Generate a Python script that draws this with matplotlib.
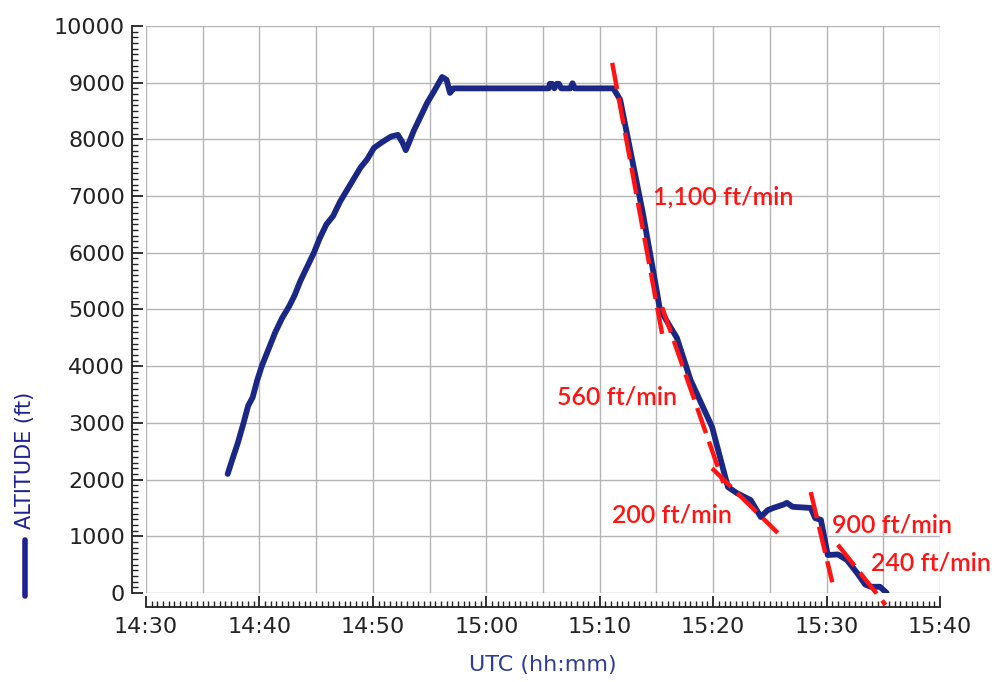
import matplotlib
matplotlib.use('Agg')
import matplotlib.pyplot as plt
from matplotlib.lines import Line2D
from matplotlib.ticker import MultipleLocator, FuncFormatter
import numpy as np

# Altitude trace (UTC time, ft)
times = ['14:37:12', '14:37:36', '14:38:06', '14:38:36', '14:39:00', '14:39:24', '14:39:48',
         '14:40:12', '14:40:48', '14:41:24', '14:42:00', '14:42:36', '14:43:06', '14:43:36',
         '14:44:12', '14:44:48', '14:45:18', '14:45:54', '14:46:30', '14:47:06', '14:47:42',
         '14:48:18', '14:48:54', '14:49:30', '14:50:06', '14:50:48', '14:51:12', '14:51:36',
         '14:52:12', '14:52:36', '14:52:54', '14:53:12', '14:53:36', '14:54:12', '14:54:48',
         '14:55:24', '14:56:06', '14:56:30', '14:56:48', '14:57:06', '14:57:18', '14:57:30',
         '15:05:30', '15:05:36', '15:05:48', '15:06:00', '15:06:12', '15:06:24', '15:06:36',
         '15:07:24', '15:07:36', '15:07:48', '15:11:12', '15:11:48', '15:12:42', '15:13:48',
         '15:15:03', '15:15:18', '15:16:30', '15:16:48', '15:18:00', '15:19:06', '15:19:54',
         '15:20:54', '15:21:18', '15:22:06', '15:23:18', '15:24:12', '15:24:48', '15:25:18',
         '15:26:12', '15:26:30', '15:27:00', '15:28:36', '15:29:00', '15:29:30', '15:30:06',
         '15:31:00', '15:31:48', '15:32:42', '15:33:24', '15:33:54', '15:34:42', '15:35:18']
altitude = [2100, 2350, 2650, 3000, 3300, 3450, 3750,
            4000, 4300, 4600, 4850, 5050, 5250, 5500,
            5750, 6000, 6250, 6500, 6650, 6900, 7100,
            7300, 7500, 7650, 7850, 7950, 8000, 8050,
            8080, 7950, 7810, 7950, 8150, 8400, 8650,
            8850, 9100, 9050, 8820, 8900, 8900, 8900,
            8900, 8980, 8980, 8900, 8980, 8980, 8900,
            8900, 8990, 8900, 8900, 8700, 7800, 6700,
            5300, 5000, 4600, 4500, 3760, 3280, 2930,
            2170, 1870, 1760, 1640, 1340, 1460, 1500,
            1560, 1590, 1520, 1500, 1320, 1290, 670,
            680, 580, 350, 150, 110, 110, 0]

# Descent-rate fit lines: start/end (time, ft) and label
rate_labels = ['1,100 ft/min', '560 ft/min', '200 ft/min', '900 ft/min', '240 ft/min']
rate_t0 = ['15:11:06', '15:15:30', '15:19:54', '15:28:36', '15:31:00']
rate_t1 = ['15:15:36', '15:20:54', '15:25:42', '15:30:30', '15:35:12']
rate_a0 = [9350, 5040, 2200, 1780, 850]
rate_a1 = [4460, 1940, 1060, 190, -210]


def to_min(s):
    h, m, sec = [int(v) for v in s.split(':')]
    return h * 60 + m + sec / 60.0


t = [to_min(s) for s in times]
t_start = to_min('14:30:00')
t_end = to_min('15:40:00')

fig = plt.figure(figsize=(9.94, 6.82), dpi=100)
ax = fig.add_axes([0.1469, 0.1305, 0.7988, 0.8314])

ax.set_xlim(t_start, t_end)
ax.set_ylim(0, 10000)

# grid
for gx in np.arange(t_start, t_end + 0.1, 5):
    ax.axvline(gx, color='#b4b4b4', lw=1, zorder=0)
for gy in np.arange(0, 10001, 1000):
    ax.axhline(gy, color='#b4b4b4', lw=1, zorder=0)

ax.plot(t, altitude, color='#1b2785', lw=4.2, solid_joinstyle='round',
        solid_capstyle='round', zorder=3)

label_pos = [(to_min('15:14:42'), 6980), (to_min('15:06:12'), 3460),
             (to_min('15:11:06'), 1380), (to_min('15:30:30'), 1200),
             (to_min('15:33:54'), 530)]
for lab, a, b, ya, yb, pos in zip(rate_labels, rate_t0, rate_t1, rate_a0, rate_a1, label_pos):
    ax.plot([to_min(a), to_min(b)], [ya, yb], color='#ff1414', lw=3.2,
            linestyle=(0, (6, 2)), zorder=4, clip_on=False)
    ax.text(pos[0], pos[1], lab, color='#ff1414', fontsize=18, fontfamily='Lato',
            fontweight='semibold', ha='left', va='center', zorder=5)

for s in ['top', 'right']:
    ax.spines[s].set_visible(False)
ax.spines['left'].set_position(('outward', 10))
ax.spines['bottom'].set_position(('outward', 10))
for s in ['left', 'bottom']:
    ax.spines[s].set_linewidth(1.3)
    ax.spines[s].set_color('#222222')

ax.xaxis.set_major_locator(MultipleLocator(10))
ax.xaxis.set_minor_locator(MultipleLocator(0.5))
ax.yaxis.set_major_locator(MultipleLocator(1000))
ax.yaxis.set_minor_locator(MultipleLocator(100))
ax.xaxis.set_major_formatter(FuncFormatter(
    lambda v, p: '%d:%02d' % (int(round(v)) // 60, int(round(v)) % 60)))

ax.tick_params(which='both', direction='in', color='#222222', labelcolor='#222222',
               labelsize=16)
ax.tick_params(axis='y', which='major', length=8, width=1.3, pad=5)
ax.tick_params(axis='y', which='minor', length=4, width=1)
ax.tick_params(axis='x', which='major', length=8, width=1.3, pad=7)
ax.tick_params(axis='x', which='minor', length=4, width=1)

ax.set_xlabel('UTC (hh:mm)', color='#2e3c9e', fontsize=16, labelpad=13)

fig.text(25 / 994, 1 - 460 / 682, 'ALTITUDE (ft)', rotation=90, color='#1f2290',
         fontsize=15, ha='center', va='center')
fig.add_artist(Line2D([25 / 994, 25 / 994], [1 - 540 / 682, 1 - 596 / 682],
                      color='#1f2290', lw=4, solid_capstyle='round'))

fig.savefig('out.png', dpi=100)
